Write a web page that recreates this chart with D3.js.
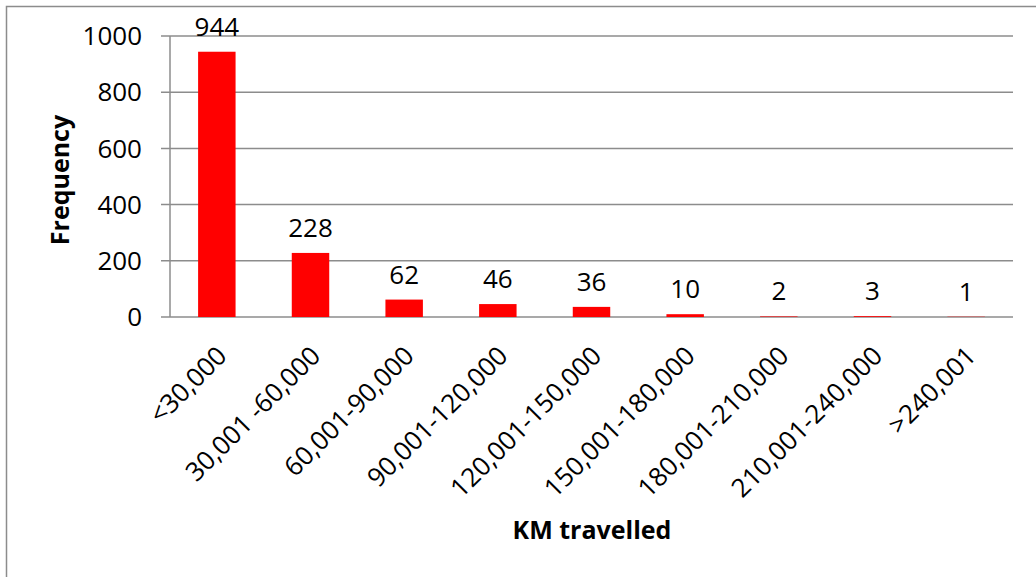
<!DOCTYPE html>
<html>
<head>
<meta charset="utf-8">
<script src="https://cdn.jsdelivr.net/npm/d3@7"></script>
<style>
  body { margin: 0; background: #fff; }
  text { font-family: "Open Sans", "Noto Sans", sans-serif; fill: #000; }
</style>
</head>
<body>
<div id="chart"></div>
<script>
// chart size
var chart_width = 1036;
var chart_height = 577;

// data
var categories = ["<30,000", "30,001 -60,000", "60,001-90,000", "90,001-120,000", "120,001-150,000",
  "150,001-180,000", "180,001-210,000", "210,001-240,000", ">240,001"];
var frequency = [944, 228, 62, 46, 36, 10, 2, 3, 1];
var yTicks = [0, 200, 400, 600, 800, 1000];

var plot = {left: 170, right: 1013, top: 36, bottom: 317};

var svg = d3.select("#chart").append("svg")
  .attr("width", chart_width)
  .attr("height", chart_height);

// outer frame (runs off the right and bottom edge like the picture)
svg.append("rect")
  .attr("x", 6.5).attr("y", 6.5)
  .attr("width", chart_width + 10).attr("height", chart_height + 10)
  .attr("fill", "none")
  .attr("stroke", "#8c8c8c")
  .attr("stroke-width", 1.5);

var x = d3.scaleBand().domain(categories).range([plot.left, plot.right]).paddingInner(0.6).paddingOuter(0.3);
var y = d3.scaleLinear().domain([0, 1000]).range([plot.bottom, plot.top]);

// gridlines + tick marks
svg.selectAll(".grid").data(yTicks).enter().append("line")
  .attr("x1", plot.left - 9).attr("x2", plot.right)
  .attr("y1", function(d) { return y(d); })
  .attr("y2", function(d) { return y(d); })
  .attr("stroke", "#8c8c8c")
  .attr("stroke-width", 1.5);

// y axis line
svg.append("line")
  .attr("x1", plot.left).attr("x2", plot.left)
  .attr("y1", plot.top).attr("y2", plot.bottom)
  .attr("stroke", "#8c8c8c")
  .attr("stroke-width", 1.5);

svg.selectAll(".ylab").data(yTicks).enter().append("text")
  .attr("x", plot.left - 28)
  .attr("y", function(d) { return y(d); })
  .attr("dy", "0.35em")
  .attr("text-anchor", "end")
  .style("font-size", "26px")
  .text(function(d) { return d; });

// bars
svg.selectAll(".bar").data(frequency).enter().append("rect")
  .attr("x", function(d, i) { return x(categories[i]); })
  .attr("width", x.bandwidth())
  .attr("y", function(d) { return y(d); })
  .attr("height", function(d) { return plot.bottom - y(d); })
  .attr("fill", "#ff0000");

// value labels
svg.selectAll(".val").data(frequency).enter().append("text")
  .attr("x", function(d, i) { return x(categories[i]) + x.bandwidth() / 2; })
  .attr("y", function(d) { return y(d) - 16; })
  .attr("text-anchor", "middle")
  .style("font-size", "26px")
  .text(function(d) { return d; });

// rotated category labels
svg.selectAll(".xlab").data(categories).enter().append("text")
  .attr("transform", function(d) {
    var cx = x(d) + x.bandwidth() / 2 + 5;
    return "translate(" + cx + ",351) rotate(-45)";
  })
  .attr("text-anchor", "end")
  .attr("dy", "0.35em")
  .style("font-size", "26px")
  .text(function(d) { return d; });

// axis titles
svg.append("text")
  .attr("x", 592).attr("y", 539)
  .attr("text-anchor", "middle")
  .style("font-size", "25px")
  .style("font-weight", "bold")
  .text("KM travelled");

svg.append("text")
  .attr("transform", "translate(69,180) rotate(-90)")
  .attr("text-anchor", "middle")
  .style("font-size", "25px")
  .style("font-weight", "bold")
  .text("Frequency");
</script>
</body>
</html>
